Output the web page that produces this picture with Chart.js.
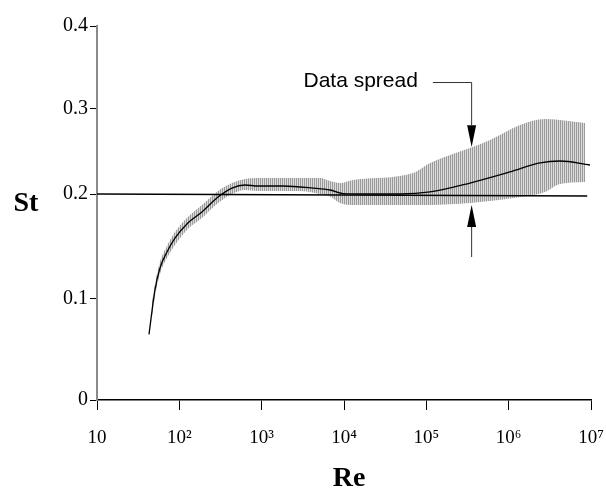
<!DOCTYPE html>
<html>
<head>
<meta charset="utf-8">
<script src="https://cdn.jsdelivr.net/npm/chart.js@4/dist/chart.umd.min.js"></script>
<style>
  html, body { margin: 0; padding: 0; background: #fff; }
  #wrap { width: 606px; height: 490px; }
</style>
</head>
<body>
<div id="wrap"><canvas id="st-vs-re"></canvas></div>
<script>
// Strouhal number vs Reynolds number
const xTicks = [10, 1e2, 1e3, 1e4, 1e5, 1e6, 1e7];
const xTickLabels = ['10', '10²', '10³', '10⁴', '10⁵', '10⁶', '10⁷'];
const yTicks = [0, 0.1, 0.2, 0.3, 0.4];
const yTickLabels = ['0', '0.1', '0.2', '0.3', '0.4'];

// mean curve
const meanRe = [42.8, 50.6, 58.2, 70.8, 88.5, 127, 188, 295, 436, 628, 903, 1817, 4205, 6764, 9727, 20700, 47900, 110900, 339000, 1037000, 2400000, 4200000, 9730000];
const meanSt = [0.065, 0.1086, 0.1295, 0.1448, 0.158, 0.1724, 0.1829, 0.1971, 0.207, 0.2106, 0.2094, 0.2094, 0.207, 0.2047, 0.2005, 0.2, 0.2, 0.2024, 0.2129, 0.2259, 0.2365, 0.2388, 0.2341];

// data spread band
const bandRe = [46, 50.6, 58.2, 70.8, 88.5, 127, 188, 295, 436, 628, 903, 2924, 5117, 6764, 8933, 12860, 68900, 110900, 339000, 593000, 1374000, 2760000, 4200000, 8460000];
const bandUpper = [0.094, 0.1143, 0.1352, 0.1505, 0.1638, 0.1781, 0.1895, 0.2035, 0.2129, 0.2176, 0.2188, 0.2188, 0.2188, 0.2153, 0.2129, 0.2165, 0.2247, 0.2365, 0.2541, 0.2635, 0.2812, 0.2882, 0.2871, 0.2835];
const bandLower = [0.080, 0.1029, 0.1238, 0.139, 0.1514, 0.1667, 0.1771, 0.1914, 0.2, 0.2047, 0.2035, 0.2035, 0.2, 0.1976, 0.1914, 0.1895, 0.1895, 0.1895, 0.1914, 0.1933, 0.1971, 0.2024, 0.2118, 0.2141];

// St = 0.2 reference line
const refRe = [10, 9e6];
const refSt = [0.2, 0.198];

// "Data spread" callout, in data units
const calloutRe = 3.5e5;
const calloutLabelRe = 7.9e4;
const calloutLeaderRe = 1.2e5;
const calloutTopSt = [0.3325, 0.281, 0.2553];   // tail, arrow base, tip
const calloutBottomSt = [0.14, 0.1686, 0.1895];

// the original figure's St axis is not evenly spaced
const warpVals = [0, 0.1, 0.2, 0.3, 0.4];
const warpDec = [0, 0.2701, 0.5508, 0.7781, 1];
function warp(v) {
  let i = 0;
  while (i < warpVals.length - 2 && v > warpVals[i + 1]) i++;
  return warpDec[i] + (v - warpVals[i]) / (warpVals[i + 1] - warpVals[i]) * (warpDec[i + 1] - warpDec[i]);
}
function unwarp(d) {
  let i = 0;
  while (i < warpDec.length - 2 && d > warpDec[i + 1]) i++;
  return warpVals[i] + (d - warpDec[i]) / (warpDec[i + 1] - warpDec[i]) * (warpVals[i + 1] - warpVals[i]);
}
class StScale extends Chart.LinearScale {
  getPixelForValue(value) {
    if (value === null || value === undefined) return NaN;
    return this.getPixelForDecimal(warp(value));
  }
  getValueForPixel(pixel) {
    return unwarp(this.getDecimalForPixel(pixel));
  }
}
StScale.id = 'stWarp';
StScale.defaults = Chart.LinearScale.defaults;
Chart.register(StScale);

function toPoints(xs, ys) {
  return xs.map((x, i) => ({ x: x, y: ys[i] }));
}

// vertical hatch for the band
const hatch = document.createElement('canvas');
hatch.width = 2; hatch.height = 4;
const hctx = hatch.getContext('2d');
hctx.fillStyle = '#dcdcdc'; hctx.fillRect(0, 0, 2, 4);
hctx.fillStyle = '#9a9a9a'; hctx.fillRect(0, 0, 1, 4);
const hatchPattern = hctx.createPattern(hatch, 'repeat');

const serif = '"Liberation Serif", "Times New Roman", serif';

const extras = {
  id: 'extras',
  afterDraw(chart) {
    const ctx = chart.ctx;
    const xs = chart.scales.x, ys = chart.scales.y;
    ctx.save();
    ctx.fillStyle = '#000';
    ctx.textAlign = 'center';
    ctx.textBaseline = 'middle';
    ctx.font = 'bold 28px ' + serif;
    ctx.fillText('St', 26, 204);
    ctx.fillText('Re', 349, 479);

    const px = xs.getPixelForValue(calloutRe);
    const yTail = ys.getPixelForValue(calloutTopSt[0]);
    ctx.font = '21px "Liberation Sans", Arial, sans-serif';
    ctx.textAlign = 'right';
    ctx.fillText('Data spread', xs.getPixelForValue(calloutLabelRe), yTail - 1);

    ctx.strokeStyle = '#333';
    ctx.lineWidth = 1;
    ctx.beginPath();
    ctx.moveTo(xs.getPixelForValue(calloutLeaderRe), yTail + 0.5);
    ctx.lineTo(px + 0.5, yTail + 0.5);
    ctx.lineTo(px + 0.5, ys.getPixelForValue(calloutTopSt[1]));
    ctx.moveTo(px + 0.5, ys.getPixelForValue(calloutBottomSt[0]));
    ctx.lineTo(px + 0.5, ys.getPixelForValue(calloutBottomSt[1]));
    ctx.stroke();

    ctx.fillStyle = '#000';
    [calloutTopSt, calloutBottomSt].forEach(a => {
      const base = ys.getPixelForValue(a[1]);
      const tip = ys.getPixelForValue(a[2]);
      ctx.beginPath();
      ctx.moveTo(px + 0.5 - 4.5, base);
      ctx.lineTo(px + 0.5 + 4.5, base);
      ctx.lineTo(px + 0.5, tip);
      ctx.closePath();
      ctx.fill();
    });
    ctx.restore();
  }
};

new Chart(document.getElementById('st-vs-re'), {
  type: 'line',
  data: {
    datasets: [
      {
        data: toPoints(bandRe, bandLower),
        order: 3,
        borderWidth: 0,
        pointRadius: 0,
        fill: false,
        cubicInterpolationMode: 'monotone'
      },
      {
        data: toPoints(bandRe, bandUpper),
        order: 2,
        borderWidth: 0,
        pointRadius: 0,
        fill: '-1',
        backgroundColor: hatchPattern,
        cubicInterpolationMode: 'monotone'
      },
      {
        data: toPoints(refRe, refSt),
        order: 1,
        borderColor: '#000',
        borderWidth: 1.5,
        pointRadius: 0,
        fill: false
      },
      {
        data: toPoints(meanRe, meanSt),
        order: 0,
        borderColor: '#000',
        borderWidth: 1.3,
        pointRadius: 0,
        fill: false,
        cubicInterpolationMode: 'monotone'
      }
    ]
  },
  options: {
    responsive: true,
    maintainAspectRatio: false,
    animation: false,
    layout: { padding: { top: 26, right: 3, left: 0, bottom: 0 } },
    plugins: {
      legend: { display: false },
      tooltip: { enabled: false },
      title: { display: false }
    },
    scales: {
      x: {
        type: 'logarithmic',
        min: 10,
        max: 1e7,
        grid: { drawOnChartArea: false, tickLength: 10, tickColor: '#000', tickWidth: 1 },
        border: { color: '#000', width: 1.5 },
        ticks: {
          autoSkip: false,
          maxRotation: 0,
          padding: 17,
          color: '#000',
          font: { family: serif, size: 19 },
          callback: (v, i) => xTickLabels[i]
        },
        afterBuildTicks: s => { s.ticks = xTicks.map(v => ({ value: v })); },
        afterFit: s => { s.height = 90; s.paddingLeft = 0; s.paddingRight = 15; }
      },
      y: {
        type: 'stWarp',
        min: 0,
        max: 0.4,
        grid: { drawOnChartArea: false, tickLength: 7, tickColor: '#000', tickWidth: 1 },
        border: { color: '#8a8a8a', width: 2 },
        ticks: {
          padding: 2,
          color: '#000',
          font: { family: serif, size: 20 },
          callback: (v, i) => yTickLabels[i]
        },
        afterBuildTicks: s => { s.ticks = yTicks.map(v => ({ value: v })); },
        afterFit: s => { s.width = 97; s.paddingTop = 0; s.paddingBottom = 0; }
      }
    }
  },
  plugins: [extras]
});
</script>
</body>
</html>
